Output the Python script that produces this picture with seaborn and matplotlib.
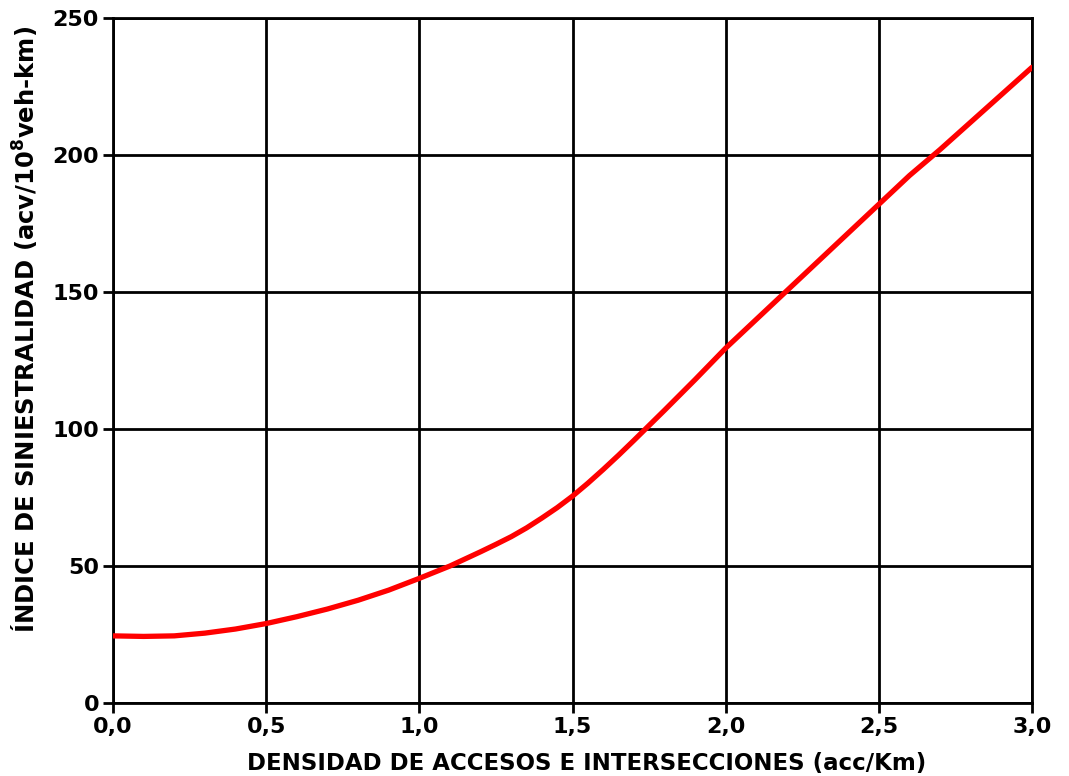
import matplotlib
matplotlib.use("Agg")
import matplotlib.pyplot as plt
import seaborn as sns
import pandas as pd

densidad = [0.0, 0.1, 0.2, 0.3, 0.4, 0.5, 0.6, 0.7, 0.8, 0.9, 1.0,
            1.1, 1.2, 1.25, 1.3, 1.35, 1.4, 1.45, 1.5, 1.55, 1.6, 1.65, 1.7, 1.8, 1.9, 2.0,
            2.1, 2.2, 2.3, 2.4, 2.5, 2.6, 2.7, 2.8, 2.9, 3.0]
indice = [24.5, 24.3, 24.5, 25.5, 27.0, 29.0, 31.5, 34.3, 37.5, 41.2, 45.5,
          50.0, 55.2, 57.9, 60.7, 63.9, 67.5, 71.3, 75.5, 80.2, 85.2, 90.4, 95.8, 106.8, 118.0, 129.5,
          140.0, 150.5, 161.0, 171.5, 182.0, 192.5, 202.0, 212.0, 222.0, 232.0]
x_ticks = [0.0, 0.5, 1.0, 1.5, 2.0, 2.5, 3.0]
x_tick_labels = ["0,0", "0,5", "1,0", "1,5", "2,0", "2,5", "3,0"]
y_ticks = [0, 50, 100, 150, 200, 250]
y_tick_labels = ["0", "50", "100", "150", "200", "250"]

sns.set_style("white")
plt.rcParams["font.family"] = ["DejaVu Sans"]
plt.rcParams["mathtext.default"] = "bf"

df = pd.DataFrame({"x": densidad, "y": indice})

fig = plt.figure(figsize=(10.69, 7.76), dpi=100)
ax = fig.add_axes([113/1069, 73/776, (1032-113)/1069, (703-18)/776])

ax.set_xlim(0, 3)
ax.set_ylim(0, 250)
ax.set_xticks(x_ticks)
ax.set_xticklabels(x_tick_labels, fontsize=16, fontweight="bold")
ax.set_yticks(y_ticks)
ax.set_yticklabels(y_tick_labels, fontsize=16, fontweight="bold")
ax.grid(True, color="black", linewidth=2.0)
ax.set_axisbelow(True)
for s in ax.spines.values():
    s.set_color("black")
    s.set_linewidth(2.0)
ax.tick_params(axis="both", direction="out", length=7, width=2.0, color="black",
               labelcolor="black", pad=3, bottom=True, left=True)

sns.lineplot(data=df, x="x", y="y", ax=ax, color="#ff0000", linewidth=3.8, zorder=5)

ax.set_xlabel("DENSIDAD DE ACCESOS E INTERSECCIONES (acc/Km)", fontsize=16.5,
              fontweight="bold", color="black")
ax.set_ylabel(r"ÍNDICE DE SINIESTRALIDAD (acv/10$^{8}$veh-km)", fontsize=17.5,
              fontweight="bold", color="black")
ax.xaxis.set_label_coords(0.515, -0.071)
ax.yaxis.set_label_coords(-0.080, 0.545)

fig.savefig("out.png", dpi=100)
